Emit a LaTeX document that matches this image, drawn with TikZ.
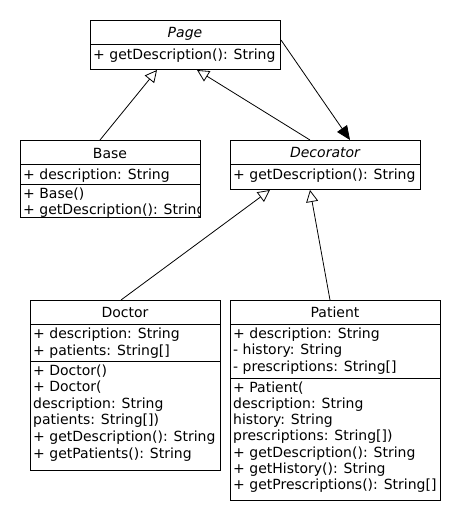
\documentclass[tikz,border=0pt]{standalone}
\usepackage{fontspec}
\setmainfont{DejaVu Sans}
\usetikzlibrary{arrows.meta,calc}
\begin{document}
\begin{tikzpicture}[x=1pt,y=-1pt,
  box/.style={draw, line width=1pt, inner sep=0pt, anchor=north west},
  txt/.style={anchor=base west, inner sep=0pt, font=\fontsize{14}{16}\selectfont},
  ttl/.style={anchor=base, inner sep=0pt, font=\fontsize{14}{16}\selectfont},
  ital/.style={font=\fontsize{14}{16}\selectfont\itshape},
  sep/.style={line width=1pt},
  gen/.style={line width=0.8pt, -{Triangle[open,length=12pt,width=12pt]}},
  assoc/.style={line width=0.8pt, -{Triangle[length=14pt,width=12pt]}}]
\useasboundingbox[fill=white] (0,0) rectangle (460,520);

% Page
\node[box, minimum width=190pt, minimum height=49pt] (page) at (90,20) {};
\draw[sep] (90,44) -- (280,44);
\node[ttl, ital] (pagettl) at (185,37) {Page};
\node[txt] (pagem1) at (93,59) {+ getDescription(): String};

% Base
\node[box, minimum width=180pt, minimum height=77pt] (base) at (20,140) {};
\draw[sep] (20,164) -- (200,164);
\draw[sep] (20,184) -- (200,184);
\node[ttl] (basettl) at (110,158) {Base};
\node[txt] (basea1) at (23,179) {+ description: String};
\begin{scope}
\clip (20,184) rectangle (199.5,217);
\node[txt] (basem1) at (23,198) {+ Base()};
\node[txt] (basem2) at (23,214) {+ getDescription(): String};
\end{scope}

% Decorator
\node[box, minimum width=190pt, minimum height=49pt] (dec) at (230,140) {};
\draw[sep] (230,164) -- (420,164);
\node[ttl, ital] (decttl) at (325,157) {Decorator};
\node[txt] (decm1) at (233,179) {+ getDescription(): String};

% Doctor
\node[box, minimum width=190pt, minimum height=170pt] (doc) at (30,300) {};
\draw[sep] (30,324) -- (220,324);
\draw[sep] (30,361) -- (220,361);
\node[ttl] (docttl) at (125,317) {Doctor};
\node[txt] (doca1) at (33,338) {+ description: String};
\node[txt] (doca2) at (33,355) {+ patients: String[]};
\node[txt] (docm1) at (33,375) {+ Doctor()};
\node[txt] (docm2) at (33,391.6) {+ Doctor(};
\node[txt] (docm3) at (33,408.2) {description: String};
\node[txt] (docm4) at (33,424.8) {patients: String[])};
\node[txt] (docm5) at (33,441.4) {+ getDescription(): String};
\node[txt] (docm6) at (33,458) {+ getPatients(): String};

% Patient
\node[box, minimum width=210pt, minimum height=200pt] (pat) at (230,300) {};
\draw[sep] (230,324) -- (440,324);
\draw[sep] (230,378) -- (440,378);
\node[ttl] (patttl) at (335,317) {Patient};
\node[txt] (pata1) at (233,338) {+ description: String};
\node[txt] (pata2) at (233,354.7) {- history: String};
\node[txt] (pata3) at (233,371.4) {- prescriptions: String[]};
\node[txt] (patm1) at (233,392) {+ Patient(};
\node[txt] (patm2) at (233,408.3) {description: String};
\node[txt] (patm3) at (233,424.6) {history: String};
\node[txt] (patm4) at (233,440.9) {prescriptions: String[])};
\node[txt] (patm5) at (233,457.2) {+ getDescription(): String};
\node[txt] (patm6) at (233,473.5) {+ getHistory(): String};
\node[txt] (patm7) at (233,489.8) {+ getPrescriptions(): String[]};

% connectors
\draw[gen] ($(base.north west)+(80,0)$) -- ($(page.south west)+(67,0)$);
\draw[gen] ($(dec.north west)+(80,0)$) -- ($(page.south west)+(107,0)$);
\draw[assoc] ($(page.north east)+(0,20)$) -- ($(dec.north west)+(120,0)$);
\draw[gen] ($(doc.north west)+(91,0)$) -- ($(dec.south west)+(40,0)$);
\draw[gen] ($(pat.north west)+(100,0)$) -- ($(dec.south west)+(80,0)$);
\end{tikzpicture}
\end{document}
